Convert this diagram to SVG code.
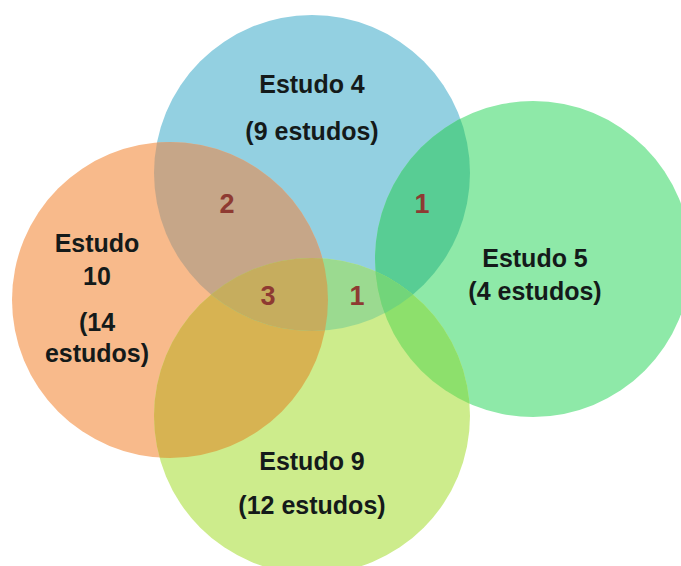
<svg xmlns="http://www.w3.org/2000/svg" width="681" height="566" viewBox="0 0 681 566">
<style>
.lbl{font-family:"Liberation Sans",Arial,sans-serif;font-weight:bold;font-size:25px;fill:#141a1a;text-anchor:middle}
.num{font-family:"Liberation Sans",Arial,sans-serif;font-weight:bold;font-size:27px;fill:#8e3a32;text-anchor:middle}
</style>
<defs>
<clipPath id="cO"><circle cx="170" cy="300" r="158"/></clipPath>
<clipPath id="cB"><circle cx="312" cy="173" r="158"/></clipPath>
<clipPath id="cG"><circle cx="533" cy="259" r="158"/></clipPath>
<clipPath id="cY"><circle cx="312" cy="416" r="158"/></clipPath>
</defs>
<rect width="681" height="566" fill="#ffffff"/>
<g id="estudo4">
<circle cx="312" cy="173" r="158" fill="#93D0E1"/>
<text class="lbl" x="312" y="93">Estudo 4</text>
<text class="lbl" x="312" y="140">(9 estudos)</text>
</g>
<g id="estudo10">
<circle cx="170" cy="300" r="158" fill="#F8BA8B"/>
<text class="lbl" x="97" y="252">Estudo</text>
<text class="lbl" x="97" y="285">10</text>
<text class="lbl" x="97" y="331">(14</text>
<text class="lbl" x="97" y="362">estudos)</text>
</g>
<g id="estudo5">
<circle cx="533" cy="259" r="158" fill="#8EE9A8"/>
<text class="lbl" x="535" y="267">Estudo 5</text>
<text class="lbl" x="535" y="300">(4 estudos)</text>
</g>
<g id="estudo9">
<circle cx="312" cy="416" r="158" fill="#CDEC8C"/>
<text class="lbl" x="312" y="470">Estudo 9</text>
<text class="lbl" x="312" y="514">(12 estudos)</text>
</g>
<g id="overlaps">
<circle cx="170" cy="300" r="158" fill="#C6A688" clip-path="url(#cB)"/>
<circle cx="170" cy="300" r="158" fill="#D7B352" clip-path="url(#cY)"/>
<circle cx="312" cy="173" r="158" fill="#58CD94" clip-path="url(#cG)"/>
<circle cx="312" cy="173" r="158" fill="#9BDA90" clip-path="url(#cY)"/>
<circle cx="533" cy="259" r="158" fill="#8DE06C" clip-path="url(#cY)"/>
<g clip-path="url(#cY)"><circle cx="170" cy="300" r="158" fill="#C6AD5E" clip-path="url(#cB)"/></g>
<g clip-path="url(#cY)"><circle cx="312" cy="173" r="158" fill="#72D57A" clip-path="url(#cG)"/></g>
</g>
<g id="counts">
<text class="num" x="227" y="213">2</text>
<text class="num" x="422" y="213">1</text>
<text class="num" x="268" y="305">3</text>
<text class="num" x="357" y="305">1</text>
</g>
</svg>
